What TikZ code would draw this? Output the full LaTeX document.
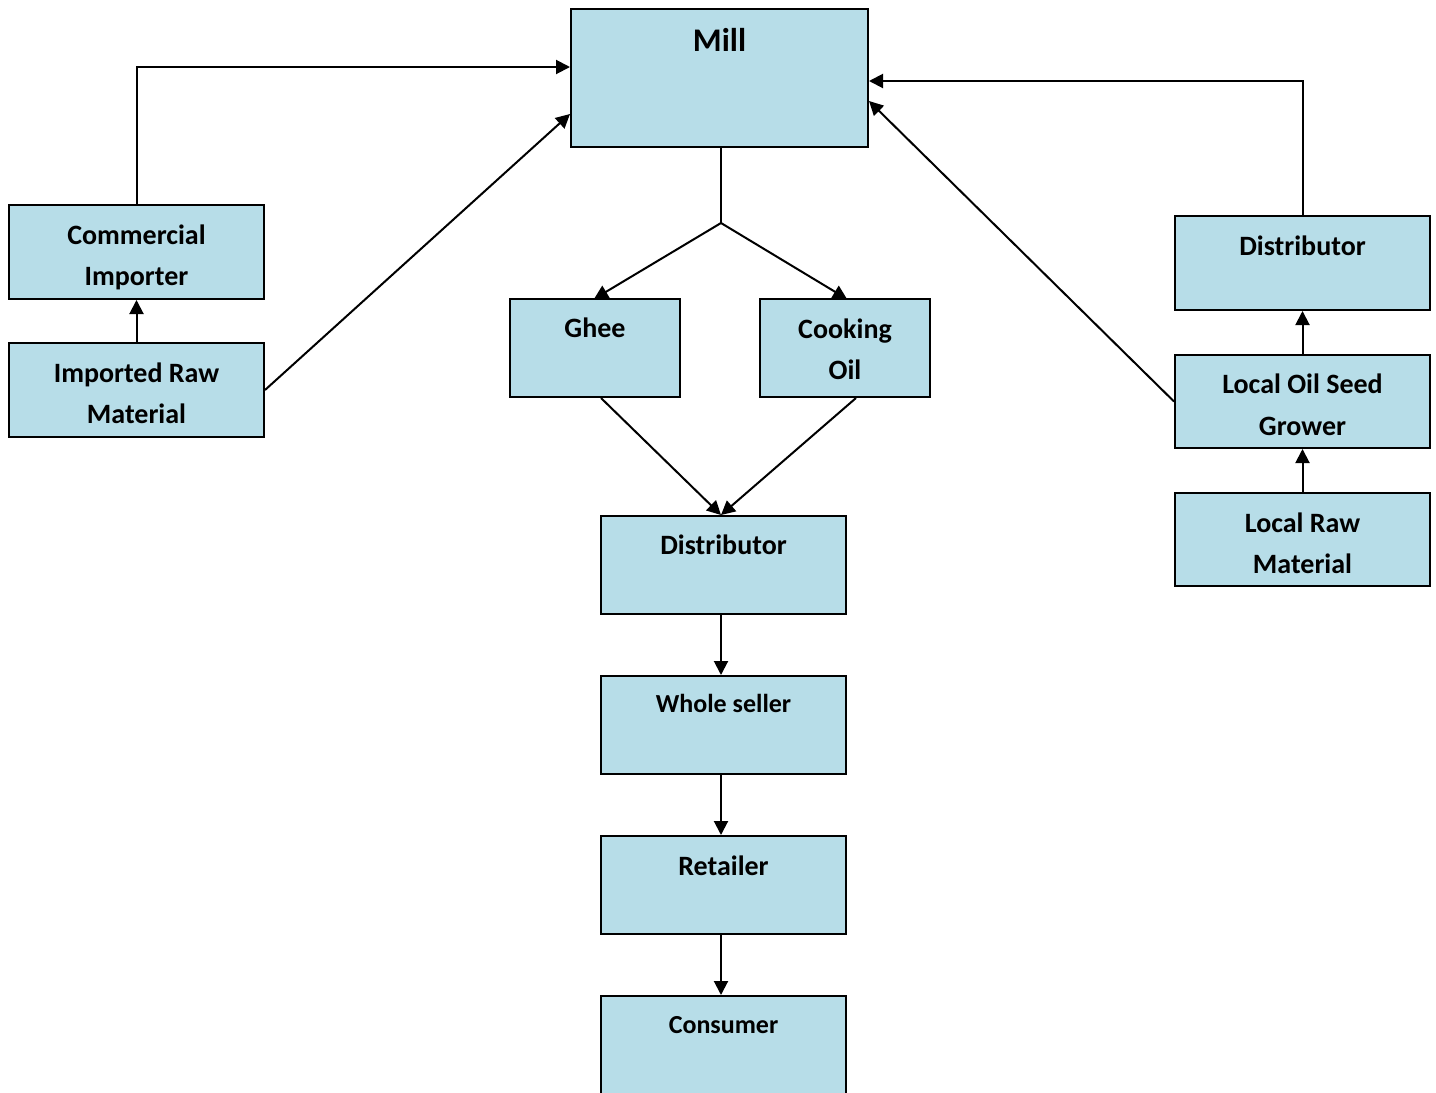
\documentclass[tikz,border=0pt]{standalone}
\usepackage{fontspec}
\setmainfont{Carlito}
\usetikzlibrary{arrows.meta}
\definecolor{boxfill}{HTML}{B7DDE8}
\tikzset{
  box/.style={draw=black, line width=2pt, fill=boxfill, rectangle, inner sep=0pt},
  txt/.style={anchor=base, inner sep=0pt, font=\bfseries\fontsize{28}{34}\selectfont},
  txts/.style={anchor=base, inner sep=0pt, font=\bfseries\fontsize{26}{32}\selectfont},
  conn/.style={line width=2pt, -{Triangle[length=14pt,width=14pt]}},
  plain/.style={line width=2pt}
}
\begin{document}
\begin{tikzpicture}[x=1pt,y=-1pt]
\useasboundingbox (0,0) rectangle (1436,1093);
% boxes
\node[box, minimum width=297pt, minimum height=138pt] (mill) at (719.5,78) {};
\node[box, minimum width=255pt, minimum height=94pt] (ci) at (136.5,252) {};
\node[box, minimum width=255pt, minimum height=94pt] (irm) at (136.5,390) {};
\node[box, minimum width=170pt, minimum height=98pt] (ghee) at (595,348) {};
\node[box, minimum width=170pt, minimum height=98pt] (oil) at (845,348) {};
\node[box, minimum width=245pt, minimum height=98pt] (dist) at (723.5,565) {};
\node[box, minimum width=245pt, minimum height=98pt] (whole) at (723.5,725) {};
\node[box, minimum width=245pt, minimum height=98pt] (ret) at (723.5,885) {};
\node[box, minimum width=245pt, minimum height=110pt] (cons) at (723.5,1051) {};
\node[box, minimum width=255pt, minimum height=94pt] (rdist) at (1302.5,263) {};
\node[box, minimum width=255pt, minimum height=93pt] (grow) at (1302.5,401.5) {};
\node[box, minimum width=255pt, minimum height=93pt] (lrm) at (1302.5,539.5) {};
% labels
\node[anchor=base, inner sep=0pt, font=\bfseries\fontsize{33}{40}\selectfont] (millt) at (719.5,51) {Mill};
\node[txt] (cit1) at (136.5,244) {Commercial};
\node[txt] (cit2) at (136.5,285) {Importer};
\node[txt] (irmt1) at (136.5,382) {Imported Raw};
\node[txt] (irmt2) at (136.5,423) {Material};
\node[txt] (gheet) at (595,337) {Ghee};
\node[txt] (oilt1) at (845,338) {Cooking};
\node[txt] (oilt2) at (845,379) {Oil};
\node[txt] (distt) at (723.5,554) {Distributor};
\node[txts] (wholet) at (723.5,712) {Whole seller};
\node[txt] (rett) at (723.5,875) {Retailer};
\node[txts] (const) at (723.5,1033) {Consumer};
\node[txt] (rdistt) at (1302.5,255) {Distributor};
\node[txt] (growt1) at (1302.5,393) {Local Oil Seed};
\node[txt] (growt2) at (1302.5,435) {Grower};
\node[txt] (lrmt1) at (1302.5,532) {Local Raw};
\node[txt] (lrmt2) at (1302.5,573) {Material};
% connectors
\coordinate (split) at (721,223);
\draw[conn] (ci.north) -- (ci.north |- 0,67) -- (mill.west |- 0,67);
\draw[conn] (irm.east) -- (mill.west |- 0,114);
\draw[conn] (irm.north) -- (ci.south);
\draw[plain] (mill.south -| split) -- (split);
\draw[conn] (split) -- (594,299);
\draw[conn] (split) -- (847,299);
\draw[conn] (ghee.south -| 601,0) -- (dist.north -| 721,0);
\draw[conn] (oil.south -| 856,0) -- (dist.north -| 721,0);
\draw[conn] (dist.south -| 721,0) -- (whole.north -| 721,0);
\draw[conn] (whole.south -| 721,0) -- (ret.north -| 721,0);
\draw[conn] (ret.south -| 721,0) -- (cons.north -| 721,0);
\draw[conn] (rdist.north) -- (rdist.north |- 0,81) -- (mill.east |- 0,81);
\draw[conn] (grow.west) -- (mill.east |- 0,101);
\draw[conn] (grow.north) -- (rdist.south);
\draw[conn] (lrm.north) -- (grow.south);
\end{tikzpicture}
\end{document}
